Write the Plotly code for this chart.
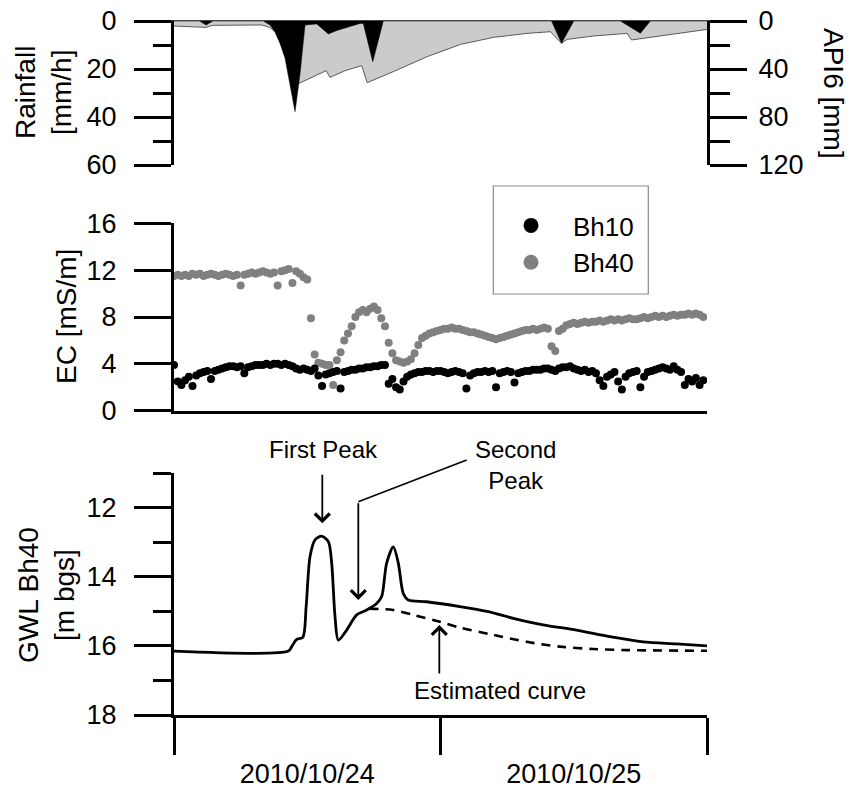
import pandas as pd
import plotly.graph_objects as go

# ---------------- data ----------------
T0 = pd.Timestamp("2010-10-24 00:00")

rain_hours = [0, 2.3, 2.9, 3.5, 8.05, 8.65, 9.1, 9.55, 10.0, 10.45, 10.9, 11.35, 11.8,
              12.85, 13.9, 14.65, 16.75, 17.05, 17.9, 18.85, 34.0, 34.9, 36.0, 40.2, 42.0, 42.9, 48]
rain_mm = [0, 0, 1.7, 0, 0, 1.7, 4.5, 9.3, 15.5, 26, 37.8, 22, 1.7,
           1.2, 5.4, 4.0, 1.0, 1.0, 17, 0, 0, 9.3, 0, 0, 5.1, 0, 0]

api_hours = [0, 2.9, 3.5, 7.9, 8.6, 9.1, 11.25, 13.7, 14.05, 15.4, 16.9, 17.4, 19.75,
             22.8, 25.8, 28.8, 31.8, 33.9, 34.9, 35.4, 37.8, 40.8, 41.2, 43.8, 48]
api_mm = [4.2, 5.3, 3.6, 3.3, 5.3, 8.9, 52, 41.4, 47, 41.4, 37.2, 51.4, 42.2,
          29.7, 19.5, 13.6, 10.3, 8.9, 18.6, 15.3, 12.5, 10.3, 15.8, 12.5, 7]

ec_bh10 = [
    3.9, 2.5, 2.2, 2.6, 2.9, 2.1, 3.0, 3.2, 3.3, 3.4, 2.7, 3.4, 3.5, 3.6, 3.7, 3.8, 3.8, 3.7,
    3.8, 3.2, 3.7, 3.8, 3.9, 3.9, 3.9, 4.0, 3.9, 4.0, 4.0, 3.9, 4.0, 3.9, 3.8, 3.6, 3.5, 3.6,
    3.5, 3.4, 3.6, 3.0, 2.1, 3.1, 3.2, 3.3, 3.4, 1.9, 3.3, 3.4, 3.5, 3.5, 3.6, 3.6, 3.7, 3.7,
    3.8, 3.8, 3.9, 3.9, 2.3, 2.7, 2.0, 1.8, 2.5, 2.9, 3.1, 3.2, 3.3, 3.3, 3.4, 3.4, 3.3, 3.4,
    3.4, 3.3, 3.2, 3.3, 3.4, 3.3, 3.2, 1.9, 3.0, 3.2, 3.3, 3.3, 3.4, 3.3, 3.4, 2.0, 3.2, 3.3,
    3.4, 3.3, 2.4, 3.2, 3.3, 3.4, 3.4, 3.5, 3.5, 3.5, 3.6, 3.6, 3.5, 3.4, 3.6, 3.7, 3.7, 3.8,
    3.6, 3.5, 3.4, 3.5, 3.3, 3.4, 3.2, 2.6, 2.1, 2.9, 3.1, 3.3, 2.5, 1.8, 2.9, 3.2, 3.3, 3.4,
    2.0, 2.9, 3.3, 3.4, 3.5, 3.6, 3.7, 3.6, 3.5, 3.8, 3.5, 3.3, 2.2, 2.7, 2.5, 2.8, 2.2, 2.6,
]
ec_bh40 = [
    11.5, 11.6, 11.5, 11.6, 11.5, 11.7, 11.6, 11.7, 11.5, 11.6, 11.7, 11.6, 11.5, 11.6, 11.7, 11.6, 11.5, 11.6,
    10.7, 11.6, 11.7, 11.8, 11.7, 11.8, 11.9, 11.8, 11.7, 11.8, 10.7, 11.9, 12.0, 12.1, 10.9, 11.9, 11.7, 11.4,
    11.2, 7.9, 4.8, 4.1, 4.0, 3.9, 3.9, 2.2, 4.3, 5.0, 6.0, 6.6, 7.2, 8.0, 8.4, 8.6, 8.4, 8.7,
    8.9, 8.6, 7.9, 7.2, 5.8, 4.9, 4.3, 4.2, 4.1, 4.2, 4.4, 4.9, 5.6, 6.2, 6.4, 6.6, 6.7, 6.8,
    6.9, 7.0, 7.0, 7.1, 7.0, 7.0, 6.9, 6.8, 6.7, 6.7, 6.6, 6.5, 6.4, 6.3, 6.2, 6.1, 6.2, 6.3,
    6.4, 6.5, 6.6, 6.7, 6.8, 6.9, 6.9, 7.0, 6.9, 7.0, 7.1, 7.0, 5.5, 5.1, 6.8, 7.0, 7.3, 7.4,
    7.5, 7.4, 7.5, 7.6, 7.5, 7.6, 7.6, 7.7, 7.6, 7.7, 7.8, 7.7, 7.8, 7.7, 7.8, 7.9, 7.8, 7.8,
    7.9, 8.0, 7.9, 8.0, 8.1, 8.0, 8.1, 8.0, 8.1, 8.2, 8.1, 8.2, 8.2, 8.3, 8.2, 8.3, 8.2, 8.0,
]

gwl_hours = [0, 10.3, 10.6, 11.05, 11.6, 11.9, 12.25, 12.7, 13.3, 13.9, 14.2, 14.5, 14.8,
             15.55, 16.45, 17.35, 18.25, 18.7, 19.15, 19.75, 20.2, 20.65, 21.1, 22.75,
             25.75, 28.2, 30.55, 33.25, 36.25, 39.25, 42.25, 45.25, 48]
gwl_m = [16.15, 16.15, 16.02, 15.81, 15.75, 14.86, 13.41, 12.93, 12.82, 12.98, 13.6, 15.15, 15.83,
         15.54, 15.1, 14.96, 14.77, 14.57, 13.6, 13.13, 13.6, 14.48, 14.67, 14.72,
         14.86, 15.0, 15.2, 15.39, 15.54, 15.73, 15.88, 15.94, 16.0]

est_hours = [17.6, 19.75, 21.55, 23.95, 25.75, 28.75, 31.75, 34.75, 37.75, 40.75, 48]
est_m = [14.92, 14.96, 15.1, 15.3, 15.47, 15.68, 15.88, 16.02, 16.09, 16.12, 16.14]


def at(hours):
    return [T0 + pd.Timedelta(hours=h) for h in hours]


ec_time = pd.date_range(T0, periods=len(ec_bh10), freq="20min")

# ---------------- layout helpers ----------------
W, H = 850, 798
FONT = "Liberation Sans, Arial, sans-serif"
XL, XR = 174, 707


def px(x):
    return x / W


def py(y):
    return 1 - y / H


XDOM = [px(XL), px(XR)]
XRANGE = [T0, T0 + pd.Timedelta(hours=48)]

fig = go.Figure()

# top panel: API6 (base axis y, right) and rainfall (overlay y2, left)
fig.add_trace(go.Scatter(x=at(api_hours), y=api_mm, xaxis="x", yaxis="y", mode="lines",
                         line=dict(color="#5a5a5a", width=1), fill="tozeroy",
                         fillcolor="#cbcbcb", showlegend=False, hoverinfo="skip"))
fig.add_trace(go.Scatter(x=at(rain_hours), y=rain_mm, xaxis="x", yaxis="y2", mode="lines",
                         line=dict(color="black", width=0.5), fill="tozeroy",
                         fillcolor="black", showlegend=False, hoverinfo="skip"))

# middle panel: EC
fig.add_trace(go.Scatter(x=ec_time, y=ec_bh40, xaxis="x2", yaxis="y3", mode="markers",
                         marker=dict(color="#808080", size=8), showlegend=False))
fig.add_trace(go.Scatter(x=ec_time, y=ec_bh10, xaxis="x2", yaxis="y3", mode="markers",
                         marker=dict(color="black", size=8), showlegend=False))
# legend entries
fig.add_trace(go.Scatter(x=[None], y=[None], xaxis="x2", yaxis="y3", mode="markers",
                         marker=dict(color="black", size=15), name="Bh10", legendgroup="a"))
fig.add_trace(go.Scatter(x=[None], y=[None], xaxis="x2", yaxis="y3", mode="markers",
                         marker=dict(color="#808080", size=15), name="Bh40", legendgroup="b"))

# bottom panel: groundwater level
fig.add_trace(go.Scatter(x=at(est_hours), y=est_m, xaxis="x3", yaxis="y4", mode="lines",
                         line=dict(color="black", width=2.6, dash="9px,7px", shape="spline",
                                   smoothing=0.8), showlegend=False))
fig.add_trace(go.Scatter(x=at(gwl_hours), y=gwl_m, xaxis="x3", yaxis="y4", mode="lines",
                         line=dict(color="black", width=2.8, shape="spline", smoothing=0.8),
                         showlegend=False))

tickfont = dict(family=FONT, size=27, color="black")
common_y = dict(showgrid=False, zeroline=False, showline=True, linecolor="black", linewidth=3,
                ticks="outside", tickwidth=3, tickcolor="black", ticklen=37, tickfont=tickfont,
                ticklabelstandoff=12, automargin=False)

fig.update_layout(
    width=W, height=H, autosize=False,
    margin=dict(l=0, r=0, t=0, b=0, pad=0, autoexpand=False),
    paper_bgcolor="white", plot_bgcolor="white",
    font=dict(family=FONT, color="black"),
    showlegend=True,
    legend=dict(x=px(489), y=py(202), xanchor="left", yanchor="top",
                bgcolor="rgba(0,0,0,0)", borderwidth=0, itemwidth=74,
                font=dict(family=FONT, size=26, color="black"), tracegroupgap=0),
    xaxis=dict(domain=XDOM, anchor="y", side="top", range=XRANGE, showline=True,
               linecolor="#444444", linewidth=1, showticklabels=False, ticks="",
               showgrid=False, zeroline=False, automargin=False),
    yaxis=dict(domain=[py(165), py(21)], anchor="x", side="right", range=[120, 0],
               tick0=0, dtick=40, minor=dict(dtick=20, ticklen=20, tickwidth=3,
                                              tickcolor="black", ticks="outside"),
               **{**common_y, "ticklabelstandoff": 6}),
    yaxis2=dict(anchor="x", overlaying="y", side="left", range=[60, 0],
                tick0=0, dtick=20, minor=dict(dtick=10, ticklen=18, tickwidth=3,
                                               tickcolor="black", ticks="outside"),
                **common_y),
    xaxis2=dict(domain=XDOM, anchor="y3", range=XRANGE, showline=True, linecolor="black",
                linewidth=3, showticklabels=False, ticks="", showgrid=False, zeroline=False,
                automargin=False),
    yaxis3=dict(domain=[py(410.7), py(223.3)], anchor="x2", range=[0, 16], tick0=0, dtick=4,
                **common_y),
    xaxis3=dict(domain=XDOM, anchor="y4", range=XRANGE, showline=True, linecolor="black",
                linewidth=3, ticks="outside", ticklen=37, tickwidth=3, tickcolor="black",
                dtick=86400000, tick0=T0, tickformat="%Y/%m/%d", ticklabelmode="period",
                tickfont=tickfont, showgrid=False, zeroline=False, ticklabelstandoff=-4,
                automargin=False),
    yaxis4=dict(domain=[py(715), py(473.3)], anchor="x3", range=[18, 11], tick0=0, dtick=2,
                minor=dict(dtick=1, ticklen=18, tickwidth=3, tickcolor="black", ticks="outside"),
                **common_y),
)

# legend frame
fig.add_shape(type="rect", xref="paper", yref="paper", x0=px(493.3), x1=px(648.3),
              y0=py(294), y1=py(186), line=dict(color="#8a8a8a", width=1.2))

# Second Peak leader line
fig.add_shape(type="line", xref="paper", yref="paper", x0=px(466.7), y0=py(460),
              x1=px(358.3), y1=py(501.7), line=dict(color="black", width=1.6))

afont = dict(family=FONT, size=24, color="black")
title_font = dict(family=FONT, size=28, color="black")
ann = [
    dict(x=px(44), y=py(93), text="Rainfall<br>[mm/h]", textangle=-90, font=title_font),
    dict(x=px(833), y=py(93), text="API6 [mm]", textangle=90, font=title_font),
    dict(x=px(66), y=py(317), text="EC [mS/m]", textangle=-90, font=title_font),
    dict(x=px(46), y=py(595), text="GWL Bh40<br>[m bgs]", textangle=-90, font=title_font),
    dict(x=px(323), y=py(449), text="First Peak", font=afont),
    dict(x=px(515), y=py(465), text="Second<br>Peak", font=afont),
    dict(x=px(500), y=py(690), text="Estimated curve", font=afont),
]
for a in ann:
    fig.add_annotation(xref="paper", yref="paper", showarrow=False,
                       xanchor="center", yanchor="middle", **a)

arrows = [((322.3, 523.3), (322.3, 473.3)),
          ((358.3, 600), (358.3, 501.7)),
          ((439.3, 625), (439.3, 675))]
for (tx, ty), (sx, sy) in arrows:
    fig.add_annotation(xref="paper", yref="paper", x=px(tx), y=py(ty), text="",
                       showarrow=True, arrowhead=4, arrowsize=1.6, arrowwidth=1.8,
                       arrowcolor="black", ax=sx - tx, ay=sy - ty, axref="pixel", ayref="pixel")

fig.write_html("out.html")
